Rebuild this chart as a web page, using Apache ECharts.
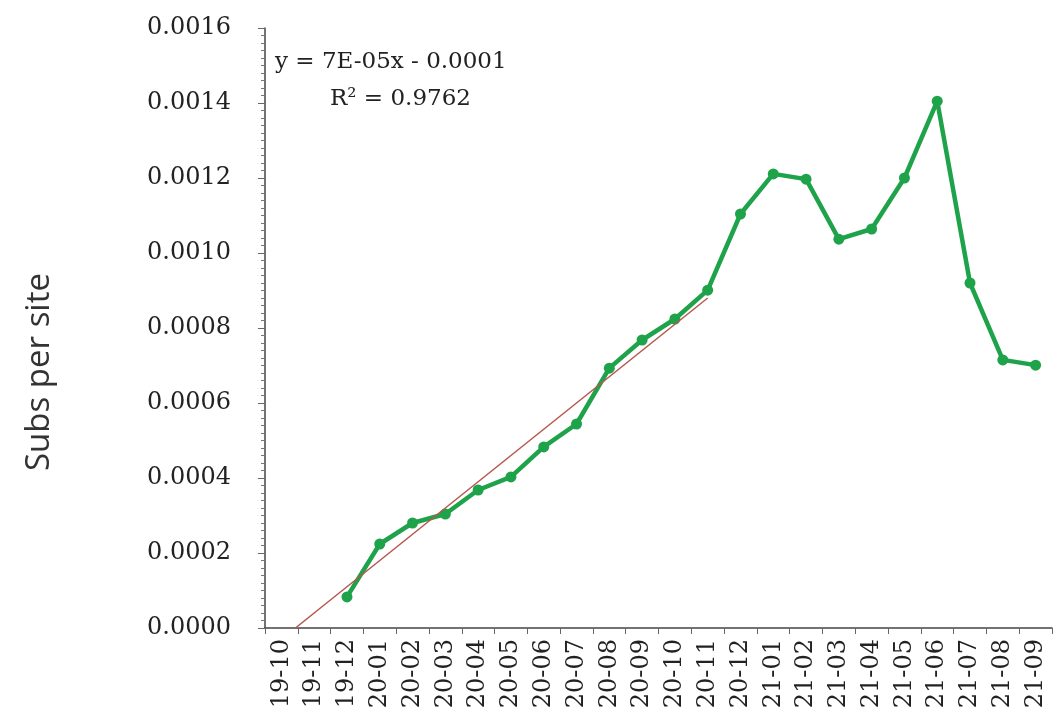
<!DOCTYPE html>
<html>
<head>
<meta charset="utf-8">
<script src="https://cdn.jsdelivr.net/npm/echarts@6/dist/echarts.min.js"></script>
<style>
  html, body { margin: 0; padding: 0; background: #fff; }
  #main { width: 1055px; height: 717px; }
</style>
</head>
<body>
<div id="main"></div>
<script>
// months on the x axis
var months = ['19-10', '19-11', '19-12', '20-01', '20-02', '20-03', '20-04', '20-05',
    '20-06', '20-07', '20-08', '20-09', '20-10', '20-11', '20-12', '21-01',
    '21-02', '21-03', '21-04', '21-05', '21-06', '21-07', '21-08', '21-09'];

// subs per site (no value for the first two months)
var subsPerSite = [null, null, 0.000083, 0.000224, 0.000280, 0.000304, 0.000368, 0.000403,
    0.000483, 0.000544, 0.000693, 0.000768, 0.000824, 0.000901, 0.001104, 0.001211,
    0.001197, 0.001037, 0.001064, 0.001200, 0.001405, 0.000920, 0.000715, 0.000701];

// linear trendline as printed on the chart (x = 1 for the first month)
var trendSlope = 0.00007;
var trendIntercept = -0.0001;
var trendLastIndex = 13; // fit runs up to 20-11

var yTicks = ['0.0000', '0.0002', '0.0004', '0.0006', '0.0008', '0.0010', '0.0012', '0.0014', '0.0016'];

// trendline endpoints: from where it crosses zero up to the last fitted month
var x0 = -trendIntercept / trendSlope - 1;
var x1 = trendLastIndex;
var trendData = [
    [x0, 0],
    [x1, trendSlope * (x1 + 1) + trendIntercept]
];

var myChart = echarts.init(document.getElementById('main'));

var serif = '"DejaVu Serif", "Liberation Serif", serif';

var option = {
    animation: false,
    backgroundColor: '#fff',
    grid: {
        left: 265,
        right: 3,
        top: 28,
        bottom: 89
    },
    xAxis: [{
        type: 'category',
        data: months,
        boundaryGap: true,
        axisLine: { onZero: false, lineStyle: { color: '#444', width: 1.5 } },
        axisTick: { show: true, length: 6, lineStyle: { color: '#666' } },
        axisLabel: {
            rotate: 90,
            interval: 0,
            margin: 11,
            color: '#222',
            fontFamily: serif,
            fontSize: 24
        },
        splitLine: { show: false }
    }, {
        type: 'value',
        min: -0.5,
        max: months.length - 0.5,
        show: false
    }],
    yAxis: {
        type: 'value',
        min: 0,
        max: 0.0016,
        interval: 0.0002,
        axisLine: { show: true, onZero: false, lineStyle: { color: '#444', width: 1.5 } },
        axisTick: { show: true, length: 7, lineStyle: { color: '#666' } },
        minorTick: { show: true, splitNumber: 10, length: 4, lineStyle: { color: '#777' } },
        axisLabel: {
            margin: 34,
            color: '#222',
            fontFamily: serif,
            fontSize: 24,
            formatter: function (v) {
                return yTicks[Math.round(v / 0.0002)];
            }
        },
        splitLine: { show: false }
    },
    graphic: [{
        type: 'text',
        left: 275,
        top: 51,
        style: {
            text: 'y = 7E-05x - 0.0001',
            font: '23px ' + serif,
            fill: '#222'
        }
    }, {
        type: 'text',
        left: 330,
        top: 88,
        style: {
            text: 'R² = 0.9762',
            font: '23px ' + serif,
            fill: '#222'
        }
    }, {
        type: 'text',
        x: 40,
        y: 372,
        rotation: Math.PI / 2,
        style: {
            text: 'Subs per site',
            font: '33px "Open Sans", sans-serif',
            fill: '#333',
            align: 'center',
            verticalAlign: 'middle'
        }
    }],
    series: [{
        name: 'Subs per site',
        type: 'line',
        data: subsPerSite,
        connectNulls: false,
        symbol: 'circle',
        symbolSize: 11,
        lineStyle: { color: '#1fa34a', width: 4.5 },
        itemStyle: { color: '#1fa34a' },
        z: 2
    }, {
        name: 'trend',
        type: 'line',
        xAxisIndex: 1,
        data: trendData,
        symbol: 'none',
        lineStyle: { color: '#b5574f', width: 1.5 },
        z: 3
    }]
};

myChart.setOption(option);
</script>
</body>
</html>
